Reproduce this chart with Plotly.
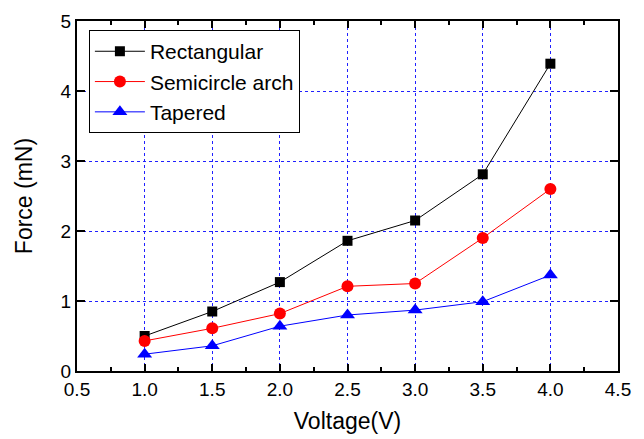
import plotly.graph_objects as go

voltage = [1.0, 1.5, 2.0, 2.5, 3.0, 3.5, 4.0]
rectangular = [0.50, 0.85, 1.27, 1.86, 2.15, 2.81, 4.39]
semicircle = [0.43, 0.61, 0.82, 1.21, 1.25, 1.90, 2.60]
tapered = [0.24, 0.36, 0.64, 0.80, 0.87, 0.99, 1.37]

series_names = ["Rectangular", "Semicircle arch", "Tapered"]
x_ticks = [0.5, 1.0, 1.5, 2.0, 2.5, 3.0, 3.5, 4.0, 4.5]
y_ticks = [0, 1, 2, 3, 4, 5]

fig = go.Figure()
styles = [
    ("black", "square", 10),
    ("red", "circle", 12),
    ("blue", "triangle-up", 13),
]
for name, ys, (col, sym, sz) in zip(series_names, [rectangular, semicircle, tapered], styles):
    fig.add_trace(go.Scatter(
        x=voltage, y=ys, name=name, mode="lines+markers",
        line=dict(color=col, width=1),
        marker=dict(color=col, symbol=sym, size=sz),
    ))

font = "Arial, Liberation Sans, sans-serif"
axis_common = dict(
    showline=True, linecolor="black", linewidth=2, mirror="ticks",
    ticks="inside", tickcolor="black", tickwidth=1.5,
    showgrid=True, gridcolor="#2020ff", griddash="dot", gridwidth=1,
    zeroline=False,
    tickfont=dict(family=font, size=19, color="black"),
)
fig.update_xaxes(
    range=[0.5, 4.5], tickvals=x_ticks, ticktext=[f"{v:.1f}" for v in x_ticks],
    ticklen=7,
    minor=dict(ticks="inside", dtick=0.25, ticklen=4, tickcolor="black", tickwidth=1.5, showgrid=False),
    title=dict(text="Voltage(V)", font=dict(family=font, size=23, color="black"), standoff=14),
    **axis_common,
)
fig.update_yaxes(
    range=[0, 5], tickvals=y_ticks, ticklen=8,
    title=dict(text="Force (mN)", font=dict(family=font, size=23, color="black"), standoff=22),
    **axis_common,
)
fig.update_layout(
    width=644, height=439,
    margin=dict(l=77, r=26, t=21, b=68, autoexpand=False),
    plot_bgcolor="white", paper_bgcolor="white",
    font=dict(family=font, color="black"),
    legend=dict(
        x=0.022, y=0.974, xanchor="left", yanchor="top",
        bgcolor="white", bordercolor="black", borderwidth=1,
        font=dict(family=font, size=21, color="black"),
        itemwidth=50, tracegroupgap=0,
    ),
    showlegend=True,
)
fig.write_html("out.html", config={"displayModeBar": False},
               post_script="document.body.style.margin='0';")
